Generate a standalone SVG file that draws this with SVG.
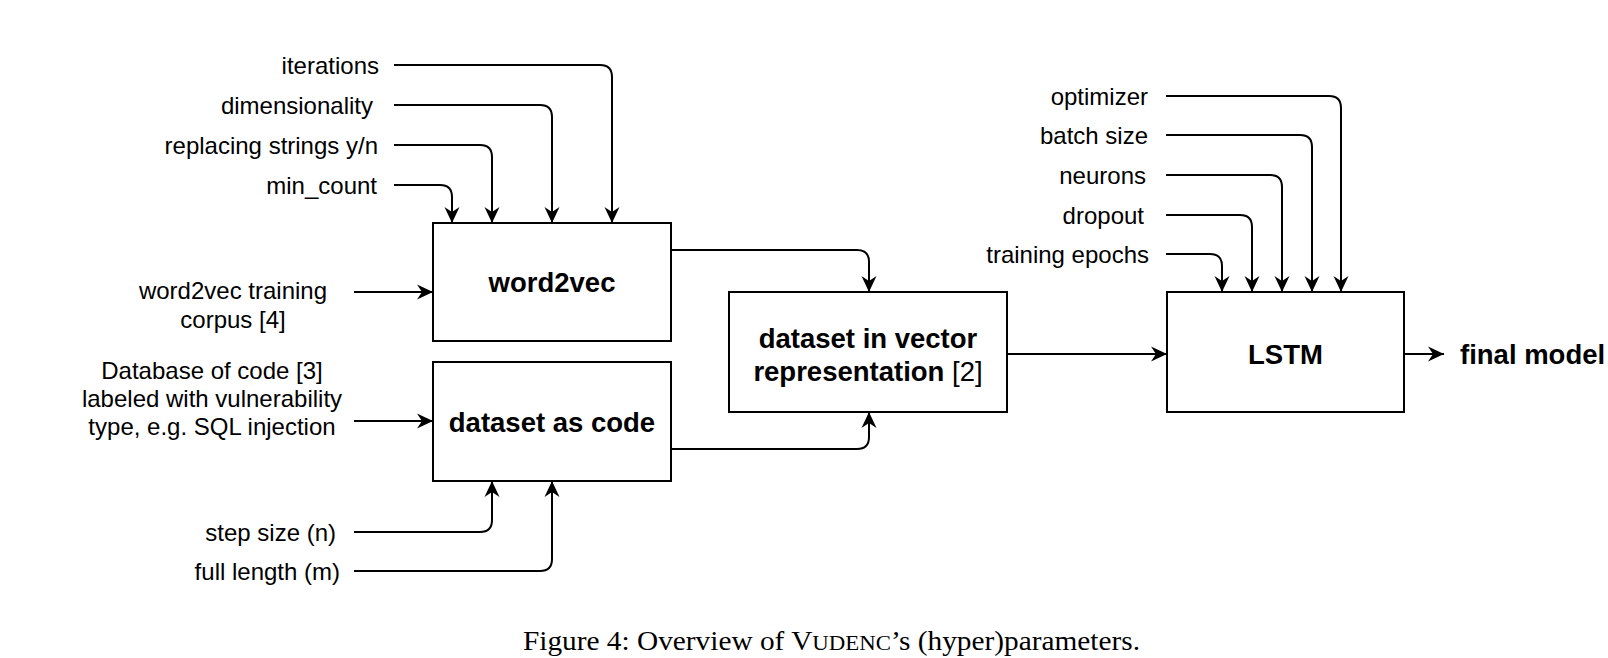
<svg xmlns="http://www.w3.org/2000/svg" width="1608" height="658" viewBox="0 0 1608 658">
<style>
.lbl{font-family:"Liberation Sans",Arial,sans-serif;font-size:24px;fill:#000}
.bold{font-family:"Liberation Sans",Arial,sans-serif;font-size:27.5px;font-weight:bold;fill:#000}
.box{fill:#fff;stroke:#000;stroke-width:2}
.con{fill:none;stroke:#000;stroke-width:2}
.cap{font-family:"Liberation Serif","Times New Roman",serif;font-size:27px;fill:#000}
</style>
<defs>
<marker id="arr" markerUnits="userSpaceOnUse" markerWidth="18" markerHeight="16" refX="16" refY="8" orient="auto">
<path d="M0,0.5 L16,8 L0,15.5 L5,8 z" fill="#000"/>
</marker>
</defs>
<rect width="1608" height="658" fill="#fff"/>
<g id="connectors">
<path class="con" marker-end="url(#arr)" d="M394,65 H600 Q612,65 612,77 V223"/>
<path class="con" marker-end="url(#arr)" d="M394,105 H540 Q552,105 552,117 V223"/>
<path class="con" marker-end="url(#arr)" d="M394,145 H480 Q492,145 492,157 V223"/>
<path class="con" marker-end="url(#arr)" d="M394,185 H440 Q452,185 452,197 V223"/>
<path class="con" marker-end="url(#arr)" d="M354,292 H433"/>
<path class="con" marker-end="url(#arr)" d="M354,421 H433"/>
<path class="con" marker-end="url(#arr)" d="M354,532 H480 Q492,532 492,520 V481"/>
<path class="con" marker-end="url(#arr)" d="M354,571 H540 Q552,571 552,559 V481"/>
<path class="con" marker-end="url(#arr)" d="M671,250 H857 Q869,250 869,262 V292"/>
<path class="con" marker-end="url(#arr)" d="M671,449 H857 Q869,449 869,437 V412"/>
<path class="con" marker-end="url(#arr)" d="M1007,354 H1167"/>
<path class="con" marker-end="url(#arr)" d="M1404,354 H1444"/>
<path class="con" marker-end="url(#arr)" d="M1166,96 H1329 Q1341,96 1341,108 V292"/>
<path class="con" marker-end="url(#arr)" d="M1166,135 H1300 Q1312,135 1312,147 V292"/>
<path class="con" marker-end="url(#arr)" d="M1166,175 H1270 Q1282,175 1282,187 V292"/>
<path class="con" marker-end="url(#arr)" d="M1166,215 H1240 Q1252,215 1252,227 V292"/>
<path class="con" marker-end="url(#arr)" d="M1166,254 H1210 Q1222,254 1222,266 V292"/>
</g>
<g id="word2vec">
<rect class="box" x="433" y="223" width="238" height="118"/>
<text class="bold" x="552" y="292" text-anchor="middle">word2vec</text>
</g>
<g id="dataset-code">
<rect class="box" x="433" y="362" width="238" height="119"/>
<text class="bold" x="552" y="432" text-anchor="middle">dataset as code</text>
</g>
<g id="dataset-vector">
<rect class="box" x="729" y="292" width="278" height="120"/>
<text class="bold" x="868" y="348" text-anchor="middle">dataset in vector</text>
<text class="bold" x="868" y="381" text-anchor="middle">representation <tspan font-weight="normal">[2]</tspan></text>
</g>
<g id="lstm">
<rect class="box" x="1167" y="292" width="237" height="120"/>
<text class="bold" x="1285.5" y="364" text-anchor="middle">LSTM</text>
</g>
<g id="final-model">
<text class="bold" x="1460" y="364">final model</text>
</g>
<g id="params-word2vec">
<text class="lbl" x="379" y="74" text-anchor="end">iterations</text>
<text class="lbl" x="373" y="114" text-anchor="end">dimensionality</text>
<text class="lbl" x="378" y="154" text-anchor="end">replacing strings y/n</text>
<text class="lbl" x="377" y="194" text-anchor="end">min_count</text>
</g>
<g id="corpus">
<text class="lbl" x="233" y="299" text-anchor="middle">word2vec training</text>
<text class="lbl" x="233" y="328" text-anchor="middle">corpus [4]</text>
</g>
<g id="database">
<text class="lbl" x="212" y="379" text-anchor="middle">Database of code [3]</text>
<text class="lbl" x="212" y="407" text-anchor="middle">labeled with vulnerability</text>
<text class="lbl" x="212" y="435" text-anchor="middle">type, e.g. SQL injection</text>
</g>
<g id="params-code">
<text class="lbl" x="336" y="541" text-anchor="end">step size (n)</text>
<text class="lbl" x="340" y="580" text-anchor="end">full length (m)</text>
</g>
<g id="params-lstm">
<text class="lbl" x="1148" y="105" text-anchor="end">optimizer</text>
<text class="lbl" x="1148" y="144" text-anchor="end">batch size</text>
<text class="lbl" x="1146" y="184" text-anchor="end">neurons</text>
<text class="lbl" x="1144" y="224" text-anchor="end">dropout</text>
<text class="lbl" x="1149" y="263" text-anchor="end">training epochs</text>
</g>
<text class="cap" x="523" y="650" textLength="617" lengthAdjust="spacingAndGlyphs">Figure 4: Overview of V<tspan font-size="21">UDENC</tspan>’s (hyper)parameters.</text>
</svg>
